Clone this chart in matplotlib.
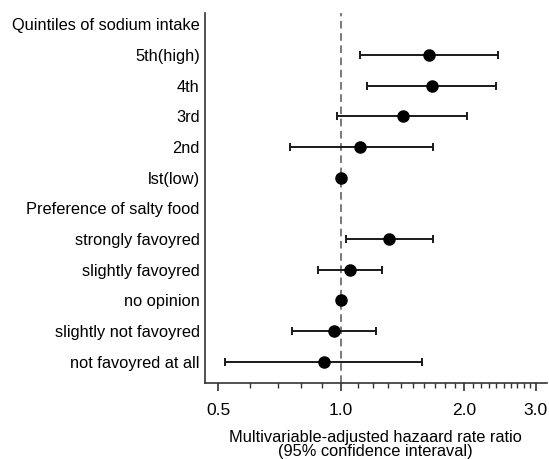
import numpy as np
import matplotlib
matplotlib.use('Agg')
import matplotlib.pyplot as plt
from matplotlib.ticker import FixedLocator, NullFormatter

plt.rcParams['font.family'] = ['Liberation Sans', 'DejaVu Sans']

labels = ['Quintiles of sodium intake', '5th(high)', '4th', '3rd', '2nd', 'lst(low)',
          'Preference of salty food', 'strongly favoyred', 'slightly favoyred', 'no opinion',
          'slightly not favoyred', 'not favoyred at all']
# rows that carry an estimate (headers have none)
rows = [1, 2, 3, 4, 5, 7, 8, 9, 10, 11]
hr = [1.64, 1.67, 1.42, 1.11, 1.00, 1.31, 1.05, 1.00, 0.96, 0.91]
ci_lo = [1.11, 1.16, 0.98, 0.75, 1.00, 1.03, 0.88, 1.00, 0.76, 0.52]
ci_hi = [2.42, 2.39, 2.03, 1.68, 1.00, 1.68, 1.26, 1.00, 1.22, 1.58]
xticks = [0.5, 1.0, 2.0, 3.0]

TEXT_SIZE = 11.8
SPINE_COL = '#333333'

hr = np.array(hr)
xerr = [hr - np.array(ci_lo), np.array(ci_hi) - hr]

fig = plt.figure(figsize=(5.49, 4.59), dpi=100)
ax = fig.add_axes([0.3725, 0.165, 0.6235, 0.8075])

ax.axvline(1.0, color='#555555', lw=1.1, ls=(0, (5, 3)), zorder=1)
ax.errorbar(hr, rows, xerr=xerr, fmt='o', color='black', ecolor='#1a1a1a',
            elinewidth=1.4, capsize=3, capthick=1.4, markersize=8, zorder=3)

ax.set_xscale('log')
ax.set_xlim(0.463, 3.19)
ax.xaxis.set_major_locator(FixedLocator(xticks))
ax.set_xticklabels([f'{t:.1f}' for t in xticks], fontsize=12.5)
minor = [round(v, 1) for v in np.arange(0.5, 3.01, 0.1) if round(v, 1) not in xticks]
ax.xaxis.set_minor_locator(FixedLocator(minor))
ax.xaxis.set_minor_formatter(NullFormatter())
ax.tick_params(axis='x', which='major', length=6, width=1.2, color=SPINE_COL, pad=8)
ax.tick_params(axis='x', which='minor', length=3.5, width=1.0, color=SPINE_COL)

ax.set_ylim(11.7, -0.38)
ax.set_yticks(range(len(labels)))
ax.set_yticklabels(labels, fontsize=TEXT_SIZE)
ax.tick_params(axis='y', length=0, pad=3.5)

for side in ['top', 'right']:
    ax.spines[side].set_visible(False)
for side in ['left', 'bottom']:
    ax.spines[side].set_color(SPINE_COL)
    ax.spines[side].set_linewidth(1.2)

ax.set_xlabel('Multivariable-adjusted hazaard rate ratio\n(95% confidence interaval)',
              fontsize=TEXT_SIZE, linespacing=0.9, labelpad=9)

fig.savefig('out.png', dpi=100)
